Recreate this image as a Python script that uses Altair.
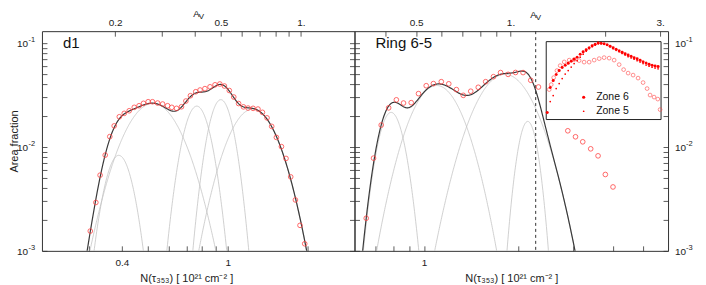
import numpy as np
import pandas as pd
import altair as alt

# ---------------- data ----------------
# left panel "d1": measured points (open circles)
d1_N = [0.304, 0.319, 0.331, 0.346, 0.360, 0.374, 0.391, 0.408, 0.426, 0.445, 0.464, 0.482,
        0.502, 0.521, 0.545, 0.569, 0.594, 0.616, 0.642, 0.670, 0.696, 0.724, 0.758, 0.787,
        0.821, 0.858, 0.896, 0.934, 0.972, 1.014, 1.054, 1.099, 1.146, 1.193, 1.246, 1.300,
        1.351, 1.406, 1.464, 1.525, 1.593, 1.657, 1.726, 1.798, 1.871, 1.949]
d1_frac = [0.00155, 0.00292, 0.00535, 0.00834, 0.01257, 0.01594, 0.01951, 0.02104, 0.02229,
           0.02404, 0.02491, 0.02627, 0.02722, 0.02722, 0.02645, 0.02587, 0.02491, 0.02404,
           0.02351, 0.02436, 0.02765, 0.03110, 0.03398, 0.03529, 0.03640, 0.03789, 0.03961,
           0.04032, 0.03857, 0.03490, 0.03021, 0.02616, 0.02430, 0.02366, 0.02351, 0.02314,
           0.02152, 0.01904, 0.01577, 0.01235, 0.01007, 0.00775, 0.00515, 0.00309, 0.00176,
           0.00117]
# left panel fitted log-normal components: centre, peak, width (dex)
d1_mu = [0.389, 0.523, 0.765, 0.942, 1.242]
d1_amp = [0.0083, 0.0262, 0.0247, 0.0285, 0.0231]
d1_sig = [0.0451, 0.0927, 0.0445, 0.0407, 0.081]

# right panel "Ring 6-5"
ring_N = [0.654, 0.690, 0.730, 0.771, 0.816, 0.860, 0.910, 0.960, 1.016, 1.071, 1.135, 1.199,
          1.268, 1.334, 1.409, 1.489, 1.572, 1.665, 1.754, 1.854, 1.958, 2.069, 2.189, 2.317,
          2.874, 3.041, 3.207, 3.400, 3.589, 3.786, 4.005]
ring_frac = [0.00206, 0.0078, 0.01623, 0.02377, 0.02839, 0.02645, 0.02668, 0.03258, 0.03883,
             0.04069, 0.04244, 0.04050, 0.03561, 0.03137, 0.03436, 0.03749, 0.04244, 0.04742,
             0.05194, 0.04991, 0.05206, 0.05194, 0.04380, 0.03774, 0.01430, 0.01252, 0.01120,
             0.00959, 0.00821, 0.00543, 0.00412]
ring_mu = [0.785, 1.097, 1.81, 2.141]
ring_amp = [0.0215, 0.039, 0.05, 0.0176]
ring_sig = [0.0357, 0.0707, 0.08, 0.0276]
ring_vline = 2.27

# inset
inset_N = [1.010, 1.039, 1.069, 1.100, 1.132, 1.165, 1.199, 1.234, 1.270, 1.306, 1.344, 1.384,
           1.424, 1.466, 1.508, 1.552, 1.597, 1.644, 1.691, 1.740, 1.791, 1.843, 1.897, 1.952,
           2.009, 2.067, 2.127, 2.189, 2.253, 2.318, 2.386, 2.455, 2.526, 2.600, 2.675, 2.753,
           2.833, 2.916]
zone6 = [0.00151, 0.00661, 0.0100, 0.01425, 0.01805, 0.02154, 0.02468, 0.02777, 0.03126,
         0.03517, 0.04005, 0.04780, 0.05541, 0.06235, 0.07017, 0.07804, 0.08527, 0.09206,
         0.09151, 0.08783, 0.08277, 0.07667, 0.06934, 0.06346, 0.05876, 0.05347, 0.04924,
         0.04533, 0.04198, 0.03888, 0.03642, 0.03335, 0.03034, 0.02810, 0.02618, 0.02483,
         0.02382, 0.02286]
zone5 = [0.00289, 0.00412, 0.00624, 0.00838, 0.01125, 0.01468, 0.01805, 0.02219, 0.02728,
         0.03257, 0.04005, 0.04780, 0.05707, 0.06613, 0.07443, 0.08134, 0.08783, 0.08887,
         0.08629, 0.08134, 0.07443, 0.06613, 0.05981, 0.05476, 0.04982, 0.04533, 0.04124,
         0.03821, 0.03537, 0.03257, 0.02998, 0.02728, 0.02512, 0.02340, 0.02206, 0.02104,
         0.02007]
inset_ring_N = [1.029, 1.049, 1.074, 1.108, 1.143, 1.188, 1.246, 1.306, 1.370, 1.437, 1.508,
                1.582, 1.660, 1.740, 1.826, 1.915, 2.009, 2.097, 2.189, 2.296, 2.408, 2.526,
                2.625, 2.701, 2.806, 2.908, 2.972]
inset_ring_frac = [0.00588, 0.00790, 0.01194, 0.01805, 0.02424, 0.03017, 0.03354, 0.03455,
                   0.03257, 0.02981, 0.02981, 0.03354, 0.03664, 0.03888, 0.03775, 0.03354,
                   0.02572, 0.01914, 0.01557, 0.01384, 0.01159, 0.00889, 0.00624, 0.00425,
                   0.00377, 0.00335, 0.00180]

AV_PER_N = 0.53
d1_dom = [0.2, 3.0]
ring_dom = [0.6, 6.0]
y_dom = [0.001, 0.13]

y_ticks = [0.001, 0.002, 0.003, 0.004, 0.005, 0.006, 0.007, 0.008, 0.009,
           0.01, 0.02, 0.03, 0.04, 0.05, 0.06, 0.07, 0.08, 0.09, 0.1]
y_label_vals = [0.1, 0.01, 0.001]
y_label_exp = ['-1', '-2', '-3']
d1_x_ticks = [0.3, 0.4, 0.5, 0.6, 0.7, 0.8, 0.9, 1, 2]
d1_x_labels = [(0.4, '0.4'), (1, '1')]
ring_x_ticks = [0.7, 0.8, 0.9, 1, 2, 3, 4, 5]
ring_x_labels = [(1, '1')]
d1_av_ticks = [0.2, 0.3, 0.4, 0.5, 0.6, 0.7, 0.8, 0.9, 1]
d1_av_labels = [(0.2, '0.2'), (0.5, '0.5'), (1, '1.')]
ring_av_ticks = [0.4, 0.5, 0.6, 0.7, 0.8, 0.9, 1, 2, 3]
ring_av_labels = [(0.5, '0.5'), (1, '1.'), (3, '3.')]

FONT = "Liberation Sans"
W_L, W_R, H = 313, 314, 220
XTITLE = 'N(τ₃₅₃) [ 10²¹ cm⁻² ]'
TXT = '#222222'
RED = '#ff4545'


def lab_expr(pairs):
    s = "''"
    for v, t in reversed(pairs):
        s = f"datum.value == {v} ? '{t}' : ({s})"
    return s


AX = dict(tickSize=5, offset=-5, domain=False, grid=False, tickColor='#333333', tickWidth=0.8,
          labelFont=FONT, labelFontSize=10, labelColor=TXT, labelOverlap=False,
          titleFont=FONT, titleFontSize=11, titleFontWeight='normal', titleColor=TXT)


def curves(mus, amps, sigs, dom):
    N = np.logspace(np.log10(dom[0]), np.log10(dom[1]), 800)
    parts = []
    total = np.zeros_like(N)
    for i, (m, a, s) in enumerate(zip(mus, amps, sigs)):
        v = a * np.exp(-(np.log10(N) - np.log10(m)) ** 2 / (2 * s ** 2))
        total += v
        parts.append(pd.DataFrame({'N': N, 'v': v, 'c': f'c{i}'}))
    comps = pd.concat(parts)
    comps = comps[comps.v > 3e-4]
    tot = pd.DataFrame({'N': N, 'v': total})
    tot = tot[tot.v > 3e-4]
    return comps, tot


one = pd.DataFrame({'k': [0]})


def txt(s, x, y, size, align='left', color='#111111'):
    return alt.Chart(one).mark_text(align=align, baseline='middle', font=FONT, fontSize=size,
                                    color=color).encode(x=alt.value(x), y=alt.value(y),
                                                        text=alt.value(s))


def ylabels(yenc, x_base, align_base, x_exp):
    df = pd.DataFrame({'v': y_label_vals, 'e': y_label_exp, 'b': ['10'] * 3})
    base = alt.Chart(df).mark_text(align=align_base, baseline='middle', font=FONT,
                                   fontSize=10, color=TXT, dy=1).encode(
        x=alt.value(x_base), y=yenc, text='b:N')
    sup = alt.Chart(df).mark_text(align='left', baseline='middle', font=FONT,
                                  fontSize=7.5, color=TXT, dy=-3).encode(
        x=alt.value(x_exp), y=yenc, text='e:N')
    return [base, sup]


def panel(name, pN, pv, mus, amps, sigs, dom, width, xticks, xlabels, avticks, avlabels,
          left_labels, av_pos, xtitle_kw, extra_main=None, extra_layers=None):
    xs = alt.Scale(type='log', domain=dom, nice=False)
    ys = alt.Scale(type='log', domain=y_dom, nice=False)
    xenc = alt.X('N:Q', scale=xs,
                 axis=alt.Axis(orient='bottom', values=xticks, labelExpr=lab_expr(xlabels),
                               labelPadding=7, title=XTITLE, titlePadding=5, **xtitle_kw, **AX))
    if left_labels:
        yax = alt.Axis(orient='left', values=y_ticks, labels=False, minExtent=0,
                       title='Area fraction', titlePadding=22, **AX)
    else:
        yax = alt.Axis(orient='left', values=y_ticks, labels=False, title=None, **AX)
    yenc = alt.Y('v:Q', scale=ys, axis=yax)

    comps, tot = curves(mus, amps, sigs, dom)
    g = alt.Chart(comps).mark_line(clip=True, color='#c4c4c4', strokeWidth=0.8).encode(
        x=xenc, y=yenc, detail='c:N')
    t = alt.Chart(tot).mark_line(clip=True, color='#3a3a3a', strokeWidth=1.2).encode(
        x=xenc, y=yenc)
    pts = alt.Chart(pd.DataFrame({'N': pN, 'v': pv})).mark_point(
        shape='circle', filled=False, size=22, color=RED, strokeWidth=0.8,
        opacity=1, clip=True).encode(x=xenc, y=yenc)
    layers = [g, t]
    if extra_main is not None:
        layers.append(extra_main(xenc, yenc))
    layers += [pts, txt(name, 21, 12, 15),
               txt('A', av_pos[0], av_pos[1], 9.5), txt('V', av_pos[0] + 5.5, av_pos[1] + 3.5, 8)]
    if left_labels:
        layers += ylabels(yenc, -14, 'right', -13.5)
    else:
        layers += ylabels(yenc, width + 7, 'left', width + 18)
    main = alt.layer(*layers)

    avdom = [dom[0] * AV_PER_N, dom[1] * AV_PER_N]
    ryax = alt.Axis(orient='right', values=y_ticks, labels=False, title=None, **AX)
    top = alt.Chart(pd.DataFrame({'av': avticks, 'v': [0.01] * len(avticks)})).mark_point(
        opacity=0).encode(
        x=alt.X('av:Q', scale=alt.Scale(type='log', domain=avdom, nice=False),
                axis=alt.Axis(orient='top', values=avticks, labelExpr=lab_expr(avlabels),
                              labelPadding=4, title=None, **AX)),
        y=alt.Y('v:Q', scale=alt.Scale(type='log', domain=y_dom, nice=False), axis=ryax))
    allv = [main, top]
    if extra_layers is not None:
        allv.append(extra_layers)
    return alt.layer(*allv).resolve_scale(x='independent', y='independent').properties(
        width=width, height=H)


left = panel('d1', d1_N, d1_frac, d1_mu, d1_amp, d1_sig, d1_dom, W_L, d1_x_ticks, d1_x_labels,
             d1_av_ticks, d1_av_labels, True, (151.5, -17.5), dict(titleX=144.5))


def vline(xenc, yenc):
    return alt.Chart(pd.DataFrame({'N': [ring_vline]})).mark_rule(
        strokeDash=[3, 3], color='#333333', strokeWidth=1).encode(x=xenc)


# inset
ixs = alt.Scale(type='log', domain=[1, 3], range=[192, 307], nice=False)
iys = alt.Scale(type='log', domain=[0.001, 0.1], range=[88.5, 10.5], nice=False)
ix = alt.X('iN:Q', scale=ixs, axis=None)
iy = alt.Y('iv:Q', scale=iys, axis=None)
frame = alt.Chart(one).mark_rect(fill='white', stroke='#222222', strokeWidth=1).encode(
    x=alt.value(192), x2=alt.value(307), y=alt.value(10.5), y2=alt.value(88.5))
z6 = alt.Chart(pd.DataFrame({'iN': inset_N, 'iv': zone6})).mark_circle(
    size=9, color='#ff0000', opacity=1).encode(x=ix, y=iy)
z5 = alt.Chart(pd.DataFrame({'iN': inset_N[1:], 'iv': zone5})).mark_circle(
    size=3, color='#ff0000', opacity=1).encode(x=ix, y=iy)
zr = alt.Chart(pd.DataFrame({'iN': inset_ring_N, 'iv': inset_ring_frac})).mark_point(
    shape='circle', filled=False, size=14, color=RED, strokeWidth=0.7,
    opacity=0.85).encode(x=ix, y=iy)
leg6 = alt.Chart(one).mark_circle(size=10, color='#ff0000', opacity=1).encode(
    x=alt.value(229.5), y=alt.value(66.2))
leg5 = alt.Chart(one).mark_circle(size=3, color='#ff0000', opacity=1).encode(
    x=alt.value(229.5), y=alt.value(80.2))
inset = alt.layer(frame, zr, z5, z6, leg6, leg5, txt('Zone 6', 242, 66.2, 10.5),
                  txt('Zone 5', 242, 80.2, 10.5))

right = panel('Ring 6-5', ring_N, ring_frac, ring_mu, ring_amp, ring_sig, ring_dom, W_R,
              ring_x_ticks, ring_x_labels, ring_av_ticks, ring_av_labels, False,
              (176, -16.2), dict(), extra_main=vline, extra_layers=inset)

chart = alt.hconcat(left, right, spacing=0, bounds='flush').properties(
    padding={'left': 0, 'top': 0, 'right': 4, 'bottom': 2}
).configure_view(stroke='#333333', strokeWidth=1)

chart.save("out.html", embed_options={"renderer": "svg", "actions": False})
